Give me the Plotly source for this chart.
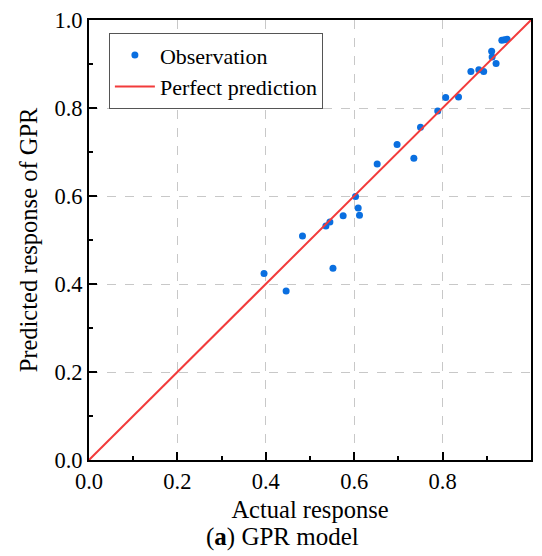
import plotly.graph_objects as go

actual = [0.934, 0.940, 0.946, 0.911, 0.912, 0.921, 0.864, 0.882, 0.893, 0.807, 0.836,
          0.789, 0.750, 0.697, 0.735, 0.652, 0.603, 0.609, 0.612, 0.575, 0.545, 0.536,
          0.483, 0.552, 0.396, 0.446]
predicted = [0.954, 0.955, 0.956, 0.929, 0.916, 0.901, 0.883, 0.887, 0.883, 0.824, 0.825,
             0.793, 0.756, 0.717, 0.686, 0.673, 0.599, 0.573, 0.556, 0.555, 0.541, 0.532,
             0.509, 0.436, 0.424, 0.384]
perfect = [0.0, 1.0]
tick_vals = [0.0, 0.2, 0.4, 0.6, 0.8, 1.0]
tick_text = ["0.0", "0.2", "0.4", "0.6", "0.8", "1.0"]

FONT = "Liberation Serif"

fig = go.Figure()
fig.add_trace(go.Scatter(x=actual, y=predicted, mode="markers", name="Observation",
                         marker=dict(color="#0a6fe0", size=7)))
fig.add_trace(go.Scatter(x=perfect, y=perfect, mode="lines", name="Perfect prediction",
                         line=dict(color="#f23b3b", width=2)))

axis_common = dict(
    range=[0, 1], tickvals=tick_vals, ticktext=tick_text,
    ticks="inside", ticklen=8, tickwidth=1.5, tickcolor="black",
    showline=True, linecolor="black", linewidth=2, mirror=True,
    showgrid=True, gridcolor="#c8c8c8", griddash="dash", gridwidth=1,
    zeroline=False, automargin=False,
    minor=dict(ticks="inside", ticklen=4, tickwidth=1.5, tickcolor="black", dtick=0.1, showgrid=False),
    tickfont=dict(family=FONT, size=22.5, color="black"),
)

fig.update_layout(
    width=542, height=556,
    margin=dict(l=89, r=11, t=20, b=96),
    plot_bgcolor="white", paper_bgcolor="white",
    font=dict(family=FONT, color="black"),
    xaxis=dict(**axis_common, title=dict(text="Actual response", font=dict(family=FONT, size=24.5), standoff=8)),
    yaxis=dict(**axis_common, title=dict(text="Predicted response of GPR", font=dict(family=FONT, size=24.5), standoff=10)),
    showlegend=True,
    legend=dict(x=0.045, y=0.970, xanchor="left", yanchor="top",
                bgcolor="white", bordercolor="#555555", borderwidth=1,
                font=dict(family=FONT, size=22), tracegroupgap=0, itemwidth=40),
    annotations=[dict(text="(<b>a</b>) GPR model", xref="paper", yref="paper",
                      x=0.438, y=-0.175, xanchor="center", yanchor="middle", showarrow=False,
                      font=dict(family=FONT, size=25, color="black"))],
)

fig.write_html("out.html", config={"displayModeBar": False},
               post_script="document.body.style.margin='0';")
